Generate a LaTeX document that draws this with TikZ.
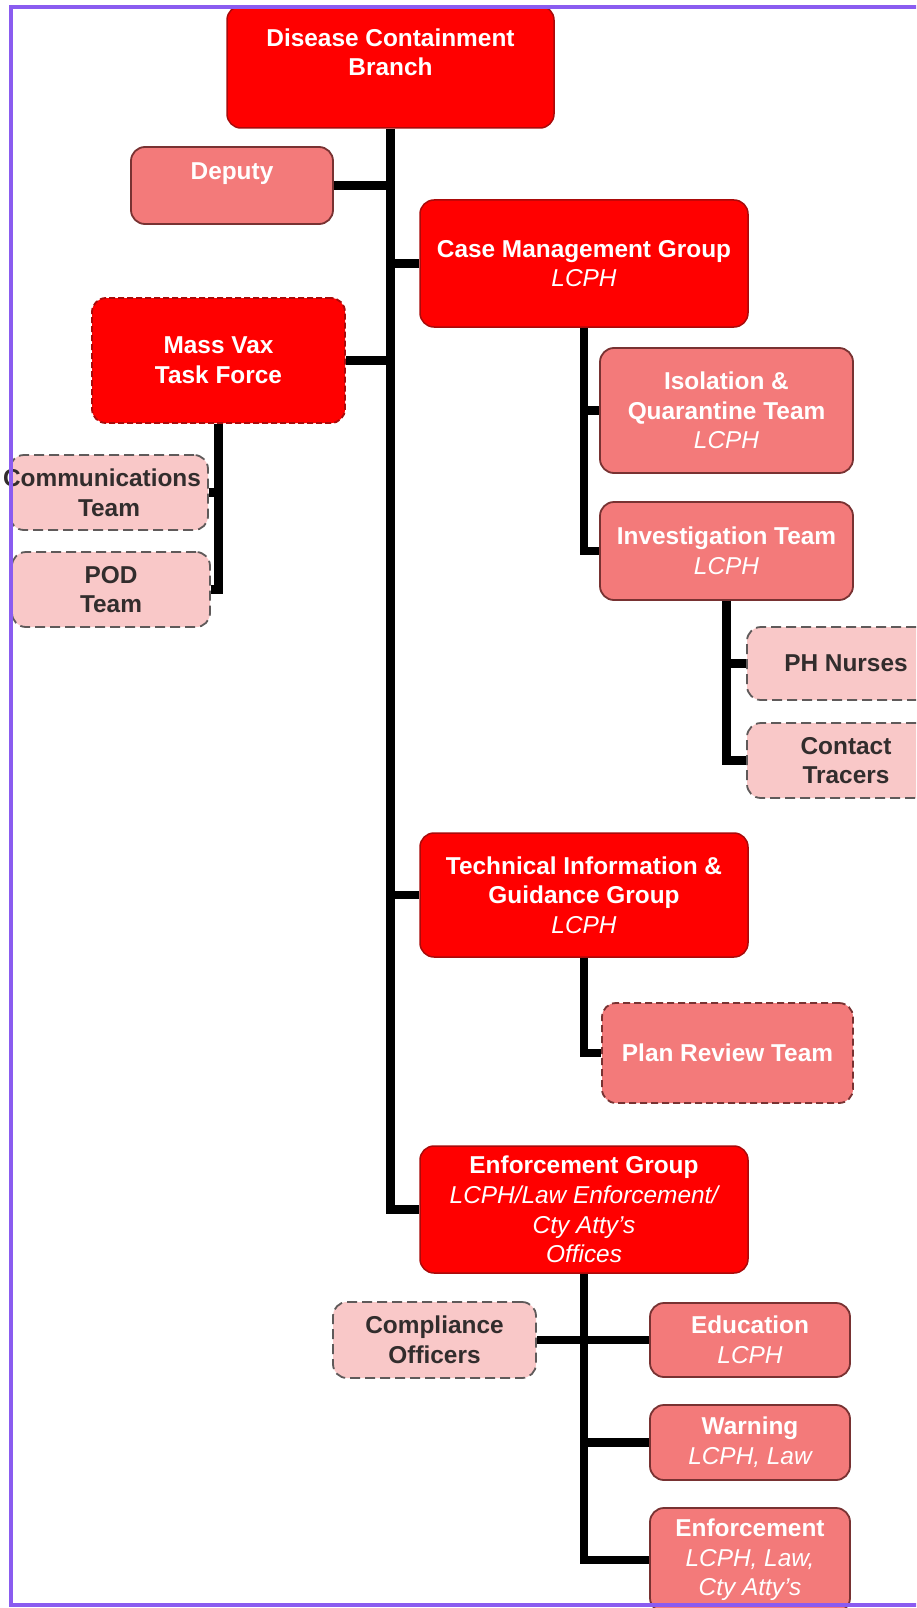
\documentclass[tikz,border=0pt]{standalone}
\usepackage{fontspec}
\setmainfont{Liberation Sans}
\definecolor{unitred}{RGB}{255,0,0}
\definecolor{unitredline}{RGB}{170,10,10}
\definecolor{teamfill}{RGB}{243,122,122}
\definecolor{teamline}{RGB}{120,50,50}
\definecolor{subfill}{RGB}{249,200,200}
\definecolor{subline}{RGB}{95,90,90}
\definecolor{subtext}{RGB}{50,45,45}
\definecolor{framecol}{RGB}{138,92,240}
\tikzset{
  base/.style={rounded corners=14pt, inner sep=0pt, align=center,
    font=\fontsize{24.4}{29.6}\selectfont\bfseries},
  groupbox/.style={base, fill=unitred, draw=unitredline, line width=1.5pt, text=white},
  taskbox/.style={base, fill=unitred, draw=unitredline, line width=1.8pt,
    dash pattern=on 6pt off 3pt, text=white},
  teambox/.style={base, fill=teamfill, draw=teamline, line width=1.8pt, text=white},
  dashteambox/.style={base, fill=teamfill, draw=teamline, line width=1.8pt,
    dash pattern=on 7pt off 4pt, text=white},
  staffbox/.style={base, fill=subfill, draw=subline, line width=1.8pt,
    dash pattern=on 10pt off 5pt, text=subtext},
  link/.style={line width=8.5pt, black},
}
% style, name, left, top, right, bottom, text
\newcommand\orgbox[7]{%
  \node[#1, minimum width={#5-#3}, minimum height={#6-#4}] (#2)
    at ({(#3+#5)/2},{(#4+#6)/2}) {#7};}
\newcommand\sub[1]{{\mdseries\itshape #1}}
\begin{document}
\begin{tikzpicture}[x=1pt, y=-1pt]
\useasboundingbox (0,0) rectangle (916,1608);
\clip (0,0) rectangle (916,1608);
\fill[white] (0,0) rectangle (916,1608);

% branch head and its direct units
\orgbox{groupbox}{branch}{227}{6}{554}{128}{Disease Containment\\Branch\\\mbox{}}
\orgbox{teambox}{deputy}{131}{147}{333}{224}{Deputy\\\mbox{}}
\orgbox{groupbox}{casegrp}{420}{200}{748}{327}{Case Management Group\\\sub{LCPH}}
\orgbox{taskbox}{massvax}{92}{298}{345}{423}{Mass Vax\\Task Force}
\orgbox{groupbox}{techgrp}{420}{833}{748}{957}{Technical Information \&\\Guidance Group\\\sub{LCPH}}
\orgbox{groupbox}{enfgrp}{420}{1146}{748}{1273}{Enforcement Group\\\sub{LCPH/Law Enforcement/}\\\sub{Cty Atty's}\\\sub{Offices}}

% mass vaccination task force
\orgbox{staffbox}{comms}{10}{455}{208}{530}{\hspace*{-14pt}Communications\\Team}
\orgbox{staffbox}{pod}{12}{552}{210}{627}{POD\\Team}

% case management
\orgbox{teambox}{isoq}{600}{348}{853}{473}{Isolation \&\\Quarantine Team\\\sub{LCPH}}
\orgbox{teambox}{invest}{600}{502}{853}{600}{Investigation Team\\\sub{LCPH}}
\orgbox{staffbox}{nurses}{747}{627}{945}{700}{PH Nurses}
\orgbox{staffbox}{tracers}{747}{723}{945}{798}{Contact\\Tracers}

% technical information
\orgbox{dashteambox}{planrev}{602}{1003}{853}{1103}{Plan Review Team}

% enforcement
\orgbox{staffbox}{comply}{333}{1302}{536}{1378}{Compliance\\Officers}
\orgbox{teambox}{educ}{650}{1303}{850}{1377}{Education\\\sub{LCPH}}
\orgbox{teambox}{warn}{650}{1405}{850}{1480}{Warning\\\sub{LCPH, Law}}
\orgbox{teambox}{enforce}{650}{1508}{850}{1612}{Enforcement\\\sub{LCPH, Law,}\\\sub{Cty Atty's}}

% reporting lines
\draw[link] (branch.south) |- (enfgrp.west);
\draw[link] (deputy.east) -- (deputy.east -| branch.south);
\draw[link] (casegrp.west) -- (casegrp.west -| branch.south);
\draw[link] (massvax.east) -- (massvax.east -| branch.south);
\draw[link] (techgrp.west) -- (techgrp.west -| branch.south);

\draw[link] (massvax.south) |- (pod.east);
\draw[link] (comms.east) -- (comms.east -| massvax.south);

\draw[link] (casegrp.south) |- (invest.west);
\draw[link] (isoq.west) -- (isoq.west -| casegrp.south);
\draw[link] (invest.south) |- (tracers.west);
\draw[link] (nurses.west) -- (nurses.west -| invest.south);

\draw[link] (techgrp.south) |- (planrev.west);

\draw[link] (enfgrp.south) |- (enforce.west);
\draw[link] (comply.east) -- (educ.west);
\draw[link] (warn.west) -- (warn.west -| enfgrp.south);

% page frame
\draw[framecol, line width=4pt] (940,7) -- (11,7) -- (11,1605) -- (940,1605);
\end{tikzpicture}
\end{document}
